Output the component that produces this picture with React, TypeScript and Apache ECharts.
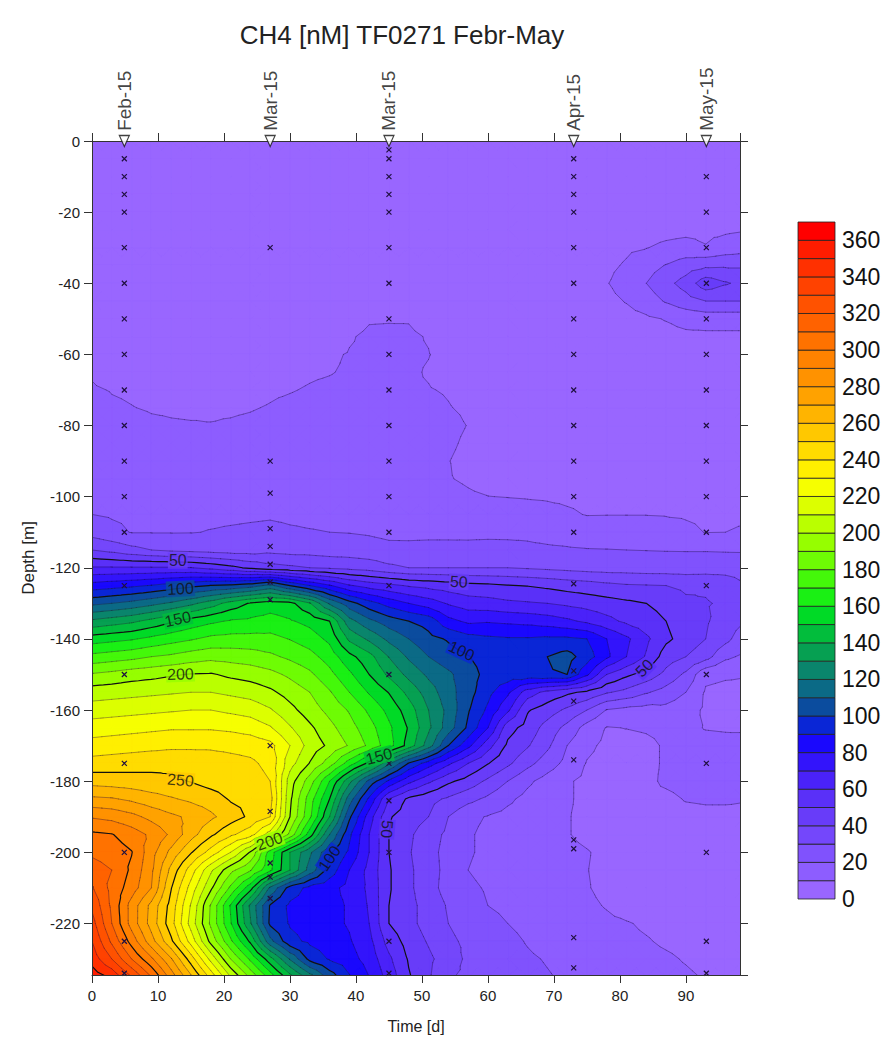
import React, { useEffect, useRef } from 'react';
import * as echarts from 'echarts';

const FONT = "'Liberation Sans', Arial, Helvetica, sans-serif";
const TITLE = 'CH4 [nM] TF0271 Febr-May';

// grid columns (time, d) and rows (depth below surface, m)
const TIMES = [0, 3, 6, 9, 12, 15, 18, 21, 24, 27, 30, 33, 36, 39, 42, 45, 48, 51, 54, 57, 60, 63, 66, 69, 72, 75, 78, 81, 84, 87, 90, 93, 96, 99];
const DEPTHS = [0, 5, 10, 15, 20, 25, 30, 35, 40, 45, 50, 55, 60, 65, 70, 75, 80, 85, 90, 95, 100, 105, 110, 115, 120, 125, 130, 135, 140, 145, 150, 155, 160, 165, 170, 175, 180, 185, 190, 195, 200, 205, 210, 215, 220, 225, 230, 235];

// CH4 [nM], one row per depth, one value per time column
const CH4_ROWS = [
  '5 5 5 5 5 5 5 5 5 5 5 5 5 5 5 5 5 5 5 5 5 5 5 5 5 5 5 5 5 5 5 5 5 5',
  '5 5 5 5 5 5 5 5 5 5 5 5 5 5 5 5 5 5 5 5 5 5 5 5 5 5 5 5 5 5 5 5 5 5',
  '5 5 5 5 5 5 5 5 5 5 5 5 5 5 5 5 5 5 5 5 5 5 5 5 5 5 5 5 5 5 5 5 5 5',
  '5 5 5 5 5 5 5 5 5 5 5 5 5 5 5 5 5 5 5 5 5 5 5 5 5 5 5 5 5 5 5 5 5 5',
  '5 5 5 5 5 5 5 5 5 5 5 5 5 5 5 5 5 5 5 5 5 5 5 5 5 5 5 5 5 5 5 5 5 5',
  '5 5 5 5 5 5 5 5 5 5 5 5 5 5 5 5 5 5 5 5 5 5 5 5 5 5 5 5 6 7 7.5 8 8.5 9.5',
  '5 5 5 5 5 5 5 5 5 5 5 5 5 5 5 5 5 5 5 5 5 5 5 5 5 5 6 8.5 9.7 12 13.5 10.5 14.4 16',
  '5 5 5 5 5 5 5 5 5 5 5 5 5 5 5 5 5 5 5 5 5 5 5 5 5 6 8 11 16 20.5 25 28 28.5 28.5',
  '5.5 5.5 5.5 5.5 5.5 5.5 5.5 5.5 5.5 5.5 5.5 5.5 5.5 5.5 5.5 5.5 5.5 5.5 5.5 5.5 5.5 5.5 5.5 5.5 5.5 7 9.5 14 20 27 34 46 41 37',
  '6 6 6 6 6 6 6 6 6 6 6 6 6 6 7 7.5 7 6 6 6 6 6 6 6 6 6 7.5 10.5 15 21 26 30 30 30',
  '6 6 6 6 6 6 6 6 6 6 6 6 6 7.5 9.5 9.6 9.6 7.5 6 6 6 6 6 6 6 6 6 7 8.5 10.5 13 14 14 14',
  '6.5 6.5 6.5 6.5 6.5 6.5 6.5 6.5 6.5 6.5 6.5 6.5 6.5 9.5 11 11.2 11 9.6 6 6 6 6 6 6 6 6 6 6 6 7 8 8 8 8',
  '8 7 7 7 7 7 7 7 7 7 7 7 9.3 10.3 11 11.5 11 10.2 8 7 6 6 6 6 6 6 6 6 6 6 6 6 6 6',
  '9.5 8 8 8 8 8 8 8 8 8.5 9 9.5 9.8 10.5 11 11.5 11 9.5 7.5 6 6 6 6 6 6 6 6 6 6 6 6 6 6 6',
  '10.5 9.8 9.5 9 9 9 9 9 9 9.5 9.8 10.3 10.8 11.2 11.5 11 10.8 10.3 9.5 8 7 6 6 6 6 6 6 6 6 6 6 6 6 6',
  '12 10.6 10.1 9.7 9.6 9.5 9.6 9.6 9.8 10.2 10.8 11.2 11.6 12 12.4 12.6 12.3 11.6 10.3 9 7.5 6 6 6 6 6 6 6 6 6 6 6 6 6',
  '13 12 11.2 10.6 10.3 10.2 10.1 10.3 10.6 11 11.6 12.2 12.8 13.2 13.5 13.6 13.3 12.8 11.8 9.8 8 6 6 6 6 6 6 6 6 6 6 6 6 6',
  '14.6 13.6 12.6 12 11.7 11.6 11.6 11.8 12.2 12.8 13.3 13.7 14 14.3 14.5 14.5 14.2 13.6 11.2 8.8 7 6 6 6 6 6 6 6 6 6 6 6 6 6',
  '16 15 14 13.5 13.3 13.3 13.3 13.5 14 14.6 15 15.2 15.4 15.5 15.6 15.6 15.2 13.8 10.2 8 6.5 6 6 6 6 6 6 6 6 6 6 6 6 6',
  '17.3 16.5 15.6 15.2 15 15 15 15.2 15.6 16.2 16.4 16.5 16.6 16.7 16.7 16.6 16.2 14.5 10.4 9 7.5 7 6.5 6.5 6.5 6.5 6.5 6.5 6.5 6.5 6.5 6.5 6.5 6.5',
  '18.5 17.8 17.2 16.9 16.8 16.7 16.8 17 17.3 17.6 17.6 17.6 17.5 17.4 17.3 17.2 17 15.5 12.5 11 10.1 9.8 9.5 9.2 8.8 8.4 8 8 8 7.8 7.5 7.3 7.3 7.3',
  '20 19 18.6 18.4 18.3 18.3 18.5 18.7 19 19.3 19 18.8 18.7 18.6 18.5 18.4 18.2 17.5 16.2 15 14.3 13.6 13 12.3 11 9.7 9.8 9.8 9.8 9.6 9.3 9 9.2 9.3',
  '26 22.6 19.6 19.6 19.6 19.7 20.3 20.8 21.2 21.5 20.7 20.3 20 19.7 19 17.8 17.7 17.7 17.7 18 18 17.8 18 16.7 15.8 14.2 14.4 14.5 14.3 13 11.5 9.8 10 10.5',
  '40 37 33 30 28 27 26 25 25 27 26 26 25 25 24 22.6 22.5 23 23 22.5 23 23 22 21.5 21 20.5 20.3 20 19.8 19.6 19.5 19.5 19.3 19.2',
  '61 61 61 61 61 60.4 57 53 48 44 42 40 38.6 37 35.4 32 30 30 30 30 30 30 29 28 27 26 25.5 25.5 25 25 25 25 25 24.5',
  '84 86 88 90.5 94 97.5 100.3 102 105.6 112.5 100 90 81 71 65.7 62.5 59 57 55 53 52 50.5 49.6 48 46 44.5 42.5 41 40.5 40 38 39 37 31',
  '107.6 110 113 117 121.6 127.5 135 144 151 155 153 141 118.5 104 94 86 80 75 69 65 64 62 61 60 58 56 54 52 50 47 42 40.5 39 33',
  '132 135 138 143 148.5 154 158 161 162 164 161 157 150 123.6 112.5 105 100 96 83 78 79 78 77 75 72 68 63 58 54 50 44 41 36 30',
  '155 157 159 162.5 166 169 172.5 173.5 173.5 173 169.6 165 157.6 138 128 117.4 110 103 99 94 92 91 91 92 92 90 80 72 62 52 46 40 33 23',
  '173 175 177 180 182 185 187 186 184.7 182 178 173.5 165.5 153 143.6 129.6 118.4 110 104 100.5 96 95 97 100 104 95 82 70 59 45 40 34 22 18',
  '191 193 195.5 197 199 200.5 201 198 196 193 188 182 173 162 150 138 127 118 112 104 97 96 97 99 100 82 60 52 46 37 28 12 11 10.5',
  '205 206 207 208 209 210 210 208 206 202 196 190 181 170 159 149.5 137 125 114 104 93 82 65 57 52 48 41 37 31 26 20 9 8 8',
  '215 216 217 218 219 220 220 218 216 211 203 195 187 179 168 157 145 130 117 101 88 72 51 45 38 30 19.5 17 16 17 14 8.5 8 8',
  '225 226 227 228 229 229 229 228 226 221 211 202 193 184 174 162 149 132 115 98 80 54 46 36 27 16 9.5 10.2 11 12 12.5 9.5 9 9',
  '234 235 236 237 238 238 238 237 236 233 220 206 198 189 178 164 146 125 100 83 64 48 41 32 20 12 8 7 8 11 13 13.5 13 12.5',
  '244 245 246 247 247 247 246 244 242 237 214 199.5 185 165 147 122 99 85 72 60 50.5 42 33 25 17 9.5 7 7 8 11 13 14 13.5 13',
  '256 255 254 253 252 249.5 246 244 245 240 205 185 160 133 107 88 73 62 52 46 38 30 22 16 11 8 6 6 8 11.5 13 14 13.5 13',
  '272 271 268 264 261 258 255 249 248 244 202 175 150 115 88 60 48 43 38.5 33 28 22 17 13 11 8 6 6 8 8 10.5 11 11 10.5',
  '289 287 283 277 272 268 262 255 248 240 200 172 140 102 75 51 45 40 30 22 19.5 17 15 13 10.5 8 6 6 6 7 7.5 8 8 8',
  '302 300.5 295 288 278 264 252 242 234 215 187 155 120 92 70 50 42 34 28 21 18 16 14 12.5 10.5 8 6 6 6 6 6 6 6 6',
  '308 305 300.5 284 267 251 236 220 199 165 140 122 102 88 70 50 41 33 27 21 18 16 14 13 12 10.5 8 6 6 6 6 6 6 6',
  '315 310 298 282 257 235 212 193 181 162 140 116 96 80 67 51 42 34 27 20 17 15 13 12 11 10.2 8 6 6 6 6 6 6 6',
  '321 307 295 280 250.5 226 202 178 154 118 96 87 83 77 68 51 42 34 26 22 19 17 15 13 12 10.5 8 6 6 6 6 6 6 6',
  '328 308 286 267 246 219 189 159 128 99 88 85 83 79 69 50 43 36 29 24 20 18 16 14 13 11.5 9.5 7 6 6 6 6 6 6',
  '334 310 286 266 244 216 188 161 131 98 89 86 83 79 70 50 43 36 30 26 23 20 18 16 14.5 13 11.5 10.5 9 8 6 6 6 6',
  '340 318 296 274 252 226 197 172 148 113 93 88 85 81 73 56 46 39 32 28 25 22 19.5 17.5 16 14.5 13 11.5 10.5 9 8 6 6 6',
  '346 330 310 292 271 245 217 190 168 144 119 97 89 84 76 62 49 42 35 28 26 23 21 19.5 18 16.5 15 13.5 12 11 9.5 8 7 6',
  '356 348 330 310 286 262 237 210 188 166 144 125 106 91 80 66 51 41 31 28 26 24 22 20.5 19 17.5 16 14.5 13 12 11 9.5 8 7',
];

// colour of each 10 nM band, 0-10 ... 360-370
const BAND_COLORS = [
  '#9966ff', '#8d5dff', '#8052fd', '#7447fb', '#683cf9', '#5a30f8', '#4a22f9', '#3314fb', '#1a08fd', '#0a26d6',
  '#0b4c9e', '#0b6a86', '#0a856c', '#06a052', '#02bd3c', '#00da26', '#1af014', '#44f80a', '#6efc04', '#96fe00',
  '#baff00', '#dcff00', '#f6ff00', '#ffef00', '#ffdc00', '#ffc800', '#ffb400', '#ffa200', '#ff9200', '#ff8200',
  '#ff7200', '#ff6200', '#ff5200', '#ff4200', '#ff3000', '#ff1c00', '#ff0000',
];
const BAND_STEP = 10;
const LEGEND_MAX = 370;
const LEGEND_TICK = 20;

// stations (top markers) and their sample depths
const STATION_TIMES = [4.9, 27.0, 45.0, 73.0, 93.1];
const STATION_NAMES = ['Feb-15', 'Mar-15', 'Mar-15', 'Apr-15', 'May-15'];
const SAMPLES_ST1 = [5, 10, 15, 20, 30, 40, 50, 60, 70, 80, 90, 100, 110, 125, 150, 175, 200, 225, 234];
const SAMPLES_ST2 = [30, 90, 99, 109, 114, 119, 124, 129, 170, 188.5, 203, 207, 213];
const SAMPLES_ST3 = [2.5, 5, 10, 15, 20, 30, 40, 50, 60, 70, 80, 90, 100, 110, 125, 150, 175, 185.5, 200, 225, 234];
const SAMPLES_ST4 = [5, 10, 15, 20, 30, 40, 50, 60, 70, 80, 90, 100, 110, 124.5, 149, 157.5, 174, 196.5, 199, 224, 232.5];
const SAMPLES_ST5 = [10, 20, 30, 40, 50, 60, 70, 80, 90, 100, 110, 125, 150, 175, 200, 225, 234];
const STATION_SAMPLES = [SAMPLES_ST1, SAMPLES_ST2, SAMPLES_ST3, SAMPLES_ST4, SAMPLES_ST5];

// contour labels
const LABEL_TEXTS = ['50', '100', '150', '200', '250', '200', '150', '100', '50', '50', '100', '50'];
const LABEL_TIMES = [13.0, 13.4, 13.0, 13.4, 13.4, 26.9, 43.5, 36.0, 44.7, 55.6, 56.0, 83.7];
const LABEL_DEPTHS = [118.0, 125.9, 134.4, 149.9, 179.7, 196.9, 173.0, 201.7, 193.5, 123.9, 143.4, 148.2];
const LABEL_ROTATIONS = [0, 3, 12, 2, -5, 20, 15, 55, -95, -3, -25, 45];

const GRID = CH4_ROWS.map((r) => r.trim().split(/\s+/).map(Number));

type Pt = { x: number; y: number; v: number };
let meshCache: { key: string; tris: Pt[][] } | null = null;

function getMesh(api: any): Pt[][] {
  const a0 = api.coord([TIMES[0], DEPTHS[0]]);
  const a1 = api.coord([TIMES[TIMES.length - 1], DEPTHS[DEPTHS.length - 1]]);
  const key = a0.join(',') + '|' + a1.join(',');
  if (meshCache && meshCache.key === key) return meshCache.tris;
  const P: Pt[][] = DEPTHS.map((d, j) =>
    TIMES.map((t, i) => {
      const c = api.coord([t, d]);
      return { x: c[0], y: c[1], v: GRID[j][i] };
    })
  );
  const tris: Pt[][] = [];
  for (let j = 0; j < DEPTHS.length - 1; j++) {
    for (let i = 0; i < TIMES.length - 1; i++) {
      const a = P[j][i], b = P[j][i + 1], c = P[j + 1][i + 1], e = P[j + 1][i];
      const m = { x: (a.x + b.x + c.x + e.x) / 4, y: (a.y + b.y + c.y + e.y) / 4, v: (a.v + b.v + c.v + e.v) / 4 };
      tris.push([a, b, m], [b, c, m], [c, e, m], [e, a, m]);
    }
  }
  meshCache = { key, tris };
  return tris;
}

function clipPoly(pts: Pt[], level: number, keepAbove: boolean): Pt[] {
  const out: Pt[] = [];
  for (let k = 0; k < pts.length; k++) {
    const a = pts[k], b = pts[(k + 1) % pts.length];
    const ina = keepAbove ? a.v >= level : a.v < level;
    const inb = keepAbove ? b.v >= level : b.v < level;
    if (ina) out.push(a);
    if (ina !== inb) {
      const f = (level - a.v) / (b.v - a.v);
      out.push({ x: a.x + f * (b.x - a.x), y: a.y + f * (b.y - a.y), v: level });
    }
  }
  return out;
}

const f2 = (n: number) => n.toFixed(2);

function renderBand(params: any, api: any) {
  const k = api.value(0);
  const lo = k === 0 ? -Infinity : k * BAND_STEP;
  const hi = k === BAND_COLORS.length - 1 ? Infinity : (k + 1) * BAND_STEP;
  const tris = getMesh(api);
  const parts: string[] = [];
  for (const tri of tris) {
    const vmin = Math.min(tri[0].v, tri[1].v, tri[2].v);
    const vmax = Math.max(tri[0].v, tri[1].v, tri[2].v);
    if (vmax < lo || vmin >= hi) continue;
    let poly: Pt[] = tri;
    if (vmin < lo) poly = clipPoly(poly, lo, true);
    if (poly.length >= 3 && vmax >= hi) poly = clipPoly(poly, hi, false);
    if (poly.length < 3) continue;
    parts.push('M' + poly.map((p) => f2(p.x) + ' ' + f2(p.y)).join('L') + 'Z');
  }
  if (!parts.length) return null;
  return {
    type: 'path',
    shape: { pathData: parts.join('') },
    style: { fill: BAND_COLORS[k], stroke: BAND_COLORS[k], lineWidth: 0.6, lineJoin: 'round' },
  };
}

function renderLevel(params: any, api: any) {
  const L = api.value(0);
  const tris = getMesh(api);
  const parts: string[] = [];
  const edges = [[0, 1], [1, 2], [2, 0]];
  for (const tri of tris) {
    const A = [tri[0].v >= L, tri[1].v >= L, tri[2].v >= L];
    const n = (A[0] ? 1 : 0) + (A[1] ? 1 : 0) + (A[2] ? 1 : 0);
    if (n === 0 || n === 3) continue;
    const pts: string[] = [];
    for (const e of edges) {
      if (A[e[0]] !== A[e[1]]) {
        const p = tri[e[0]], q = tri[e[1]];
        const f = (L - p.v) / (q.v - p.v);
        pts.push(f2(p.x + f * (q.x - p.x)) + ' ' + f2(p.y + f * (q.y - p.y)));
      }
    }
    if (pts.length === 2) parts.push('M' + pts[0] + 'L' + pts[1]);
  }
  if (!parts.length) return null;
  const major = L % 50 === 0;
  return {
    type: 'path',
    shape: { pathData: parts.join('') },
    style: {
      fill: 'none',
      stroke: major ? '#111111' : 'rgba(25,10,45,0.5)',
      lineWidth: major ? 1.2 : 0.7,
      lineCap: 'round',
    },
  };
}

function valueAt(t: number, d: number): number {
  let i = 0;
  while (i < TIMES.length - 2 && t > TIMES[i + 1]) i++;
  let j = 0;
  while (j < DEPTHS.length - 2 && d > DEPTHS[j + 1]) j++;
  const u = (t - TIMES[i]) / (TIMES[i + 1] - TIMES[i]);
  const w = (d - DEPTHS[j]) / (DEPTHS[j + 1] - DEPTHS[j]);
  const a = GRID[j][i], b = GRID[j][i + 1], c = GRID[j + 1][i + 1], e = GRID[j + 1][i];
  return a * (1 - u) * (1 - w) + b * u * (1 - w) + c * u * w + e * (1 - u) * w;
}

function bandColorAt(t: number, d: number): string {
  const v = valueAt(t, d);
  const k = Math.max(0, Math.min(BAND_COLORS.length - 1, Math.floor(v / BAND_STEP)));
  return BAND_COLORS[k];
}

function buildOption() {
  const axisLine = { show: true, onZero: false, lineStyle: { color: '#333', width: 1 } };
  const axisTick = { show: true, inside: false, length: 8, lineStyle: { color: '#333', width: 1 } };
  const levels = [];
  for (let L = BAND_STEP; L < LEGEND_MAX; L += BAND_STEP) levels.push([L, 0]);

  return {
    animation: false,
    backgroundColor: '#ffffff',
    textStyle: { fontFamily: FONT },
    title: {
      text: TITLE,
      left: 397,
      top: 17,
      textAlign: 'center',
      textStyle: { fontSize: 26, fontWeight: 'normal', color: '#222', fontFamily: FONT },
    },
    grid: [
      { left: 92, top: 141, width: 648, height: 834, show: true, backgroundColor: BAND_COLORS[0], borderWidth: 0 },
      { left: 798, top: 222, width: 37, height: 677, show: false },
    ],
    xAxis: [
      {
        gridIndex: 0, type: 'value', min: 0, max: 98.2, interval: 10, position: 'bottom',
        axisLine, axisTick, splitLine: { show: false },
        axisLabel: { fontSize: 15, color: '#222', margin: 13, showMaxLabel: false, fontFamily: FONT },
        name: 'Time [d]', nameLocation: 'middle', nameGap: 43,
        nameTextStyle: { fontSize: 16, color: '#222', fontFamily: FONT },
        z: 10,
      },
      {
        gridIndex: 0, type: 'value', min: 0, max: 98.2, interval: 10, position: 'top',
        axisLine, axisTick, splitLine: { show: false }, axisLabel: { show: false }, z: 10,
      },
      { gridIndex: 1, type: 'value', min: 0, max: 1, show: false },
    ],
    yAxis: [
      {
        gridIndex: 0, type: 'value', min: 0, max: 234.5, inverse: true, interval: 20, position: 'left',
        axisLine, axisTick, splitLine: { show: false },
        axisLabel: {
          fontSize: 15, color: '#222', margin: 12, showMaxLabel: false, fontFamily: FONT,
          formatter: (v: number) => (v === 0 ? '0' : '-' + v),
        },
        name: 'Depth [m]', nameLocation: 'middle', nameGap: 55, nameRotate: 90,
        nameTextStyle: { fontSize: 17, color: '#222', fontFamily: FONT },
        z: 10,
      },
      {
        gridIndex: 0, type: 'value', min: 0, max: 234.5, inverse: true, interval: 20, position: 'right',
        axisLine, axisTick, splitLine: { show: false }, axisLabel: { show: false }, z: 10,
      },
      {
        gridIndex: 1, type: 'value', min: 0, max: LEGEND_MAX, interval: LEGEND_TICK, position: 'right',
        axisLine: { show: false }, axisTick: { show: false }, splitLine: { show: false },
        axisLabel: { fontSize: 23, color: '#111', margin: 7, showMaxLabel: false, fontFamily: FONT },
      },
    ],
    series: [
      {
        type: 'custom', name: 'bands', xAxisIndex: 0, yAxisIndex: 0, clip: true, silent: true, z: 1,
        data: BAND_COLORS.map((_, k) => [k, 0]),
        renderItem: renderBand,
      },
      {
        type: 'custom', name: 'contours', xAxisIndex: 0, yAxisIndex: 0, clip: true, silent: true, z: 2,
        data: levels,
        renderItem: renderLevel,
      },
      {
        type: 'scatter', name: 'samples', xAxisIndex: 0, yAxisIndex: 0, silent: true, z: 3, clip: false,
        symbol: 'path://M0,0L10,10M10,0L0,10', symbolSize: 5,
        itemStyle: { color: 'rgba(0,0,0,0)', borderColor: '#201040', borderWidth: 1.2, opacity: 1 },
        data: STATION_TIMES.flatMap((t, s) => STATION_SAMPLES[s].map((d) => [t, d])),
      },
      {
        type: 'scatter', name: 'labels', xAxisIndex: 0, yAxisIndex: 0, silent: true, z: 4, symbolSize: 0,
        data: LABEL_TEXTS.map((txt, n) => ({
          value: [LABEL_TIMES[n], LABEL_DEPTHS[n]],
          name: txt,
          label: { rotate: LABEL_ROTATIONS[n], backgroundColor: bandColorAt(LABEL_TIMES[n], LABEL_DEPTHS[n]) },
        })),
        label: {
          show: true, position: 'inside', formatter: '{b}', fontSize: 16, color: '#111',
          fontFamily: FONT, padding: [0, 1],
        },
      },
      {
        type: 'scatter', name: 'stations', xAxisIndex: 1, yAxisIndex: 0, silent: true, z: 12, clip: false,
        symbol: 'triangle', symbolRotate: 180, symbolSize: [10, 11],
        itemStyle: { color: '#ffffff', borderColor: '#111', borderWidth: 1.2 },
        data: STATION_TIMES.map((t, s) => ({ value: [t, 0], name: STATION_NAMES[s] })),
        label: {
          show: true, position: 'top', distance: 4, rotate: 90, align: 'left', verticalAlign: 'middle',
          formatter: '{b}', fontSize: 19, color: '#111', fontFamily: FONT,
        },
      },
      {
        type: 'custom', name: 'legend', xAxisIndex: 2, yAxisIndex: 2, silent: true, z: 2,
        data: BAND_COLORS.map((_, k) => [0, k]),
        renderItem: (params: any, api: any) => {
          const k = api.value(1);
          const p0 = api.coord([0, k * BAND_STEP]);
          const p1 = api.coord([1, (k + 1) * BAND_STEP]);
          return {
            type: 'rect',
            shape: { x: p0[0], y: p1[1], width: p1[0] - p0[0], height: p0[1] - p1[1] },
            style: { fill: BAND_COLORS[k], stroke: '#222', lineWidth: 0.8 },
          };
        },
      },
    ],
  };
}

export default function App() {
  const ref = useRef<HTMLDivElement>(null);
  useEffect(() => {
    if (!ref.current) return;
    const chart = echarts.init(ref.current, null, { renderer: 'svg' });
    chart.setOption(buildOption() as any);
    return () => chart.dispose();
  }, []);
  return (
    <div
      ref={ref}
      style={{ position: 'fixed', left: 0, top: 0, width: 895, height: 1054, background: '#fff' }}
    />
  );
}
